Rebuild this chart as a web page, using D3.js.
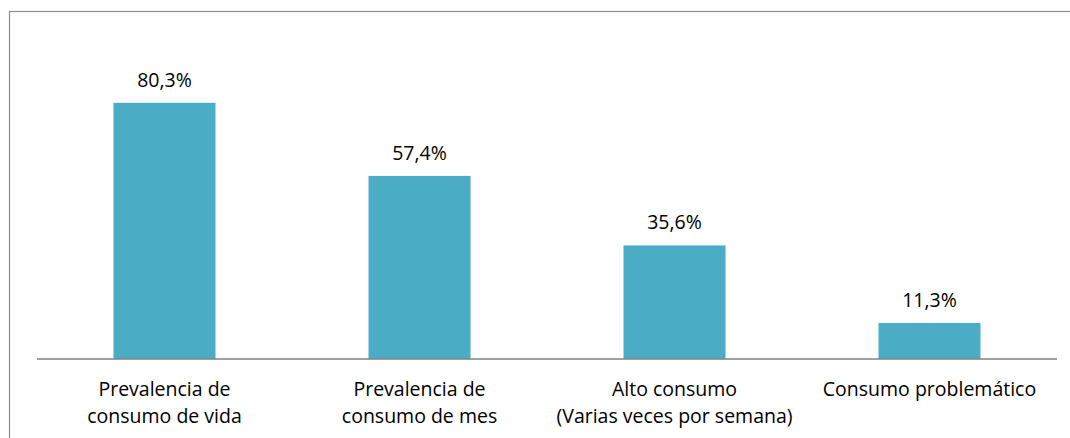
<!DOCTYPE html>
<meta charset="utf-8">
<script src="https://d3js.org/d3.v7.min.js"></script>
<style>
  body { margin: 0; background: #fff; }
  text { font-family: "Open Sans", sans-serif; fill: #000; }
</style>
<div id="my_dataviz"></div>
<script>
// categories (each label split in lines) and values in %
var categories = ["vida", "mes", "alto", "problematico"];
var labelLines = [
  ["Prevalencia de", "consumo de vida"],
  ["Prevalencia de", "consumo de mes"],
  ["Alto consumo", "(Varias veces por semana)"],
  ["Consumo problemático"]
];
var values = [80.3, 57.4, 35.6, 11.3];
var valueLabels = ["80,3%", "57,4%", "35,6%", "11,3%"];

var W = 1070, H = 438;
var svg = d3.select("#my_dataviz")
  .append("svg")
    .attr("width", W)
    .attr("height", H);

// outer frame (runs off the right and bottom edges)
svg.append("rect")
  .attr("x", 9.5).attr("y", 11.5)
  .attr("width", W + 20).attr("height", H + 20)
  .attr("fill", "none")
  .attr("stroke", "#8c8c8c")
  .attr("stroke-width", 1.2);

var x = d3.scaleBand()
  .domain(categories)
  .range([37, 1057])
  .paddingInner(0.6)
  .paddingOuter(0.3);

var y = d3.scaleLinear()
  .domain([0, 100])
  .range([359, 40]);

// bars
svg.selectAll(".bar")
  .data(values)
  .enter()
  .append("rect")
    .attr("class", "bar")
    .attr("x", function(d, i) { return x(categories[i]); })
    .attr("y", function(d) { return y(d); })
    .attr("width", x.bandwidth())
    .attr("height", function(d) { return y(0) - y(d); })
    .attr("fill", "#4bacc6");

// value labels
svg.selectAll(".val")
  .data(values)
  .enter()
  .append("text")
    .attr("class", "val")
    .attr("x", function(d, i) { return x(categories[i]) + x.bandwidth() / 2; })
    .attr("y", function(d) { return y(d) - 16; })
    .attr("text-anchor", "middle")
    .style("font-size", "19.5px")
    .text(function(d, i) { return valueLabels[i]; });

// x axis baseline
svg.append("line")
  .attr("x1", 37).attr("x2", 1057)
  .attr("y1", y(0)).attr("y2", y(0))
  .attr("stroke", "#808080")
  .attr("stroke-width", 1.5);

// category labels
var cat = svg.selectAll(".cat")
  .data(categories)
  .enter()
  .append("text")
    .attr("class", "cat")
    .attr("text-anchor", "middle")
    .style("font-size", "19.5px")
    .attr("transform", function(d) { return "translate(" + (x(d) + x.bandwidth() / 2) + ",396)"; });

cat.selectAll("tspan")
  .data(function(d, i) { return labelLines[i]; })
  .enter()
  .append("tspan")
    .attr("x", 0)
    .attr("dy", function(d, j) { return j === 0 ? 0 : 27; })
    .text(function(d) { return d; });
</script>
